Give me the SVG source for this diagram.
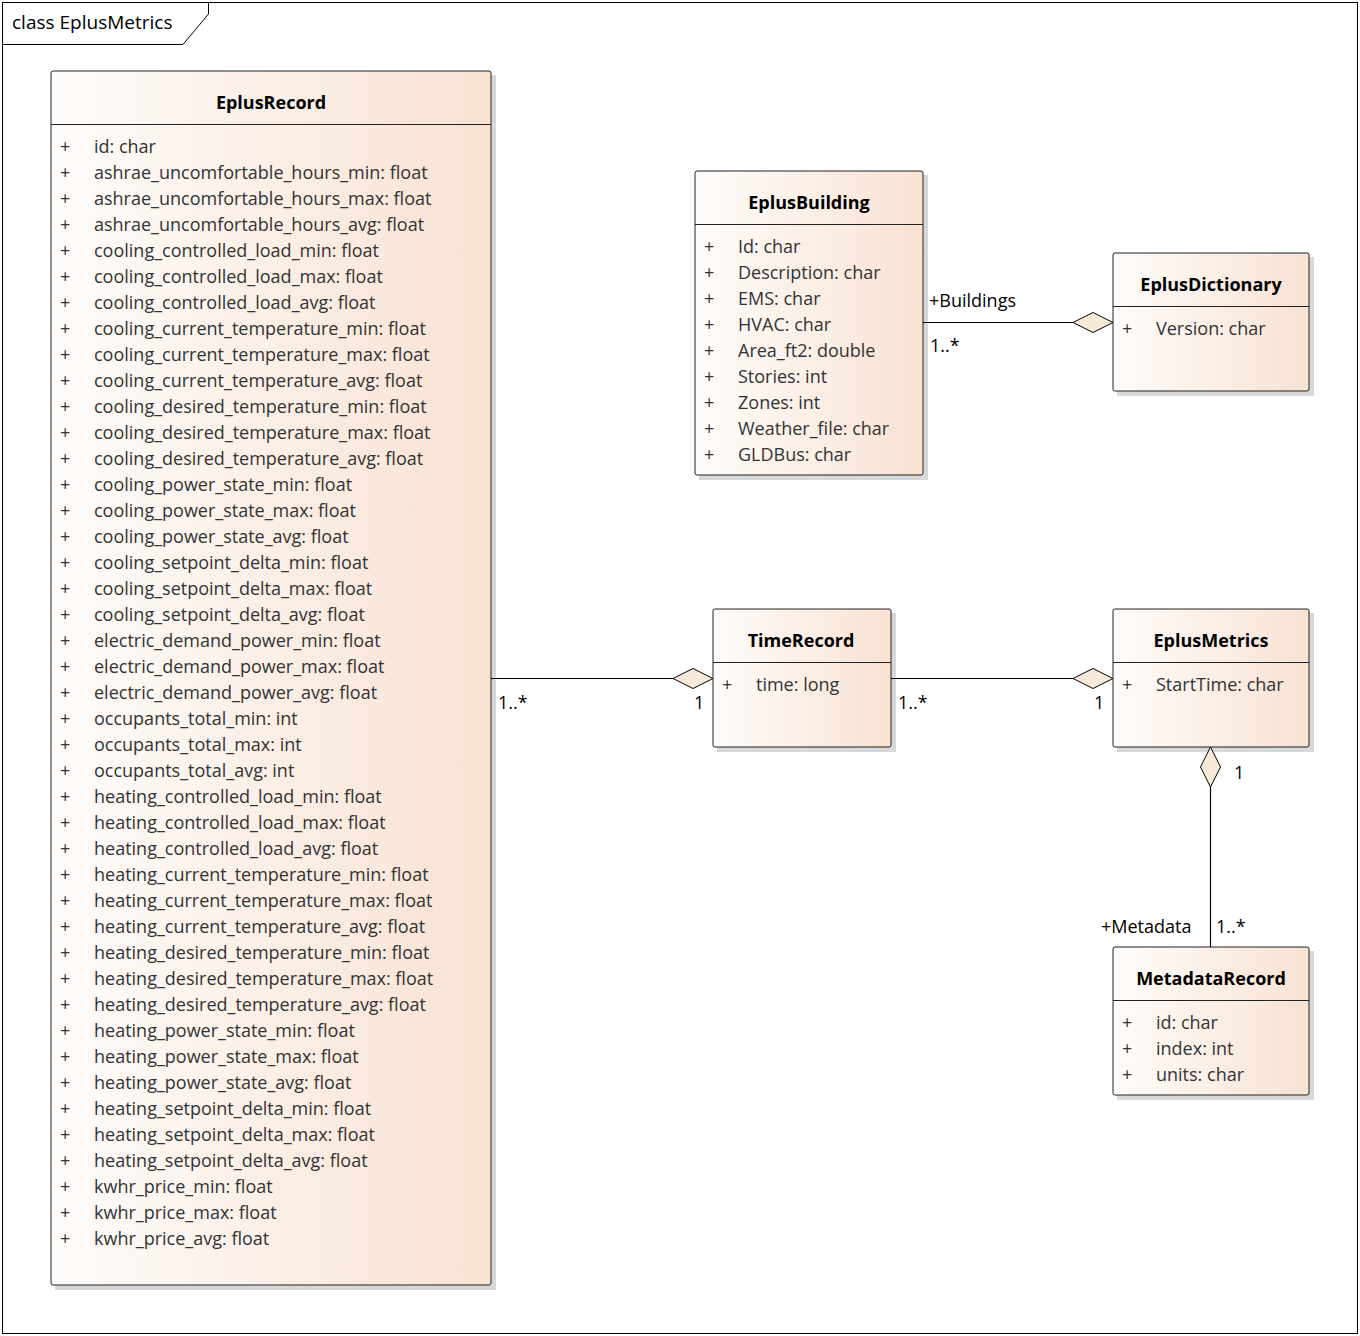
<svg xmlns="http://www.w3.org/2000/svg" width="1360" height="1336" viewBox="0 0 1360 1336">
<defs>
<linearGradient id="g" x1="0" y1="0" x2="1" y2="0"><stop offset="0" stop-color="#fefcfa"/><stop offset="1" stop-color="#f8e2d3"/></linearGradient>
<style>
.box{fill:url(#g);stroke:#222;stroke-width:1}
.sh{fill:#d8d8d8}
.t{font-family:"Open Sans","Noto Sans",sans-serif;font-size:18px;font-weight:bold;fill:#000;text-anchor:middle}
.a{font-family:"Open Sans","Noto Sans",sans-serif;font-size:18px;fill:#333}
.l{font-family:"Open Sans","Noto Sans",sans-serif;font-size:18px;fill:#000}
.ln{stroke:#000;stroke-width:1.2;fill:none}
.d{fill:#f8ead9;stroke:#000;stroke-width:1}
</style>
</defs>
<rect x="0" y="0" width="1360" height="1336" fill="#fff"/>
<rect x="2.5" y="2.5" width="1355" height="1331" fill="none" stroke="#000"/>
<path d="M2.5 44.5 H183 L208.5 14 V2.5" fill="none" stroke="#000"/>
<text x="12" y="29" class="l" style="font-size:19px">class EplusMetrics</text>

<g id="EplusRecord">
<rect class="sh" x="55" y="75" width="441" height="1215"/>
<rect class="box" x="51" y="71" width="440" height="1214" rx="2"/>
<line x1="51" y1="124.5" x2="491" y2="124.5" stroke="#222"/>
<text class="t" x="271" y="109">EplusRecord</text>
<g class="a">
<text x="60" y="153">+</text><text x="94" y="153">id: char</text>
<text x="60" y="179">+</text><text x="94" y="179">ashrae_uncomfortable_hours_min: float</text>
<text x="60" y="205">+</text><text x="94" y="205">ashrae_uncomfortable_hours_max: float</text>
<text x="60" y="231">+</text><text x="94" y="231">ashrae_uncomfortable_hours_avg: float</text>
<text x="60" y="257">+</text><text x="94" y="257">cooling_controlled_load_min: float</text>
<text x="60" y="283">+</text><text x="94" y="283">cooling_controlled_load_max: float</text>
<text x="60" y="309">+</text><text x="94" y="309">cooling_controlled_load_avg: float</text>
<text x="60" y="335">+</text><text x="94" y="335">cooling_current_temperature_min: float</text>
<text x="60" y="361">+</text><text x="94" y="361">cooling_current_temperature_max: float</text>
<text x="60" y="387">+</text><text x="94" y="387">cooling_current_temperature_avg: float</text>
<text x="60" y="413">+</text><text x="94" y="413">cooling_desired_temperature_min: float</text>
<text x="60" y="439">+</text><text x="94" y="439">cooling_desired_temperature_max: float</text>
<text x="60" y="465">+</text><text x="94" y="465">cooling_desired_temperature_avg: float</text>
<text x="60" y="491">+</text><text x="94" y="491">cooling_power_state_min: float</text>
<text x="60" y="517">+</text><text x="94" y="517">cooling_power_state_max: float</text>
<text x="60" y="543">+</text><text x="94" y="543">cooling_power_state_avg: float</text>
<text x="60" y="569">+</text><text x="94" y="569">cooling_setpoint_delta_min: float</text>
<text x="60" y="595">+</text><text x="94" y="595">cooling_setpoint_delta_max: float</text>
<text x="60" y="621">+</text><text x="94" y="621">cooling_setpoint_delta_avg: float</text>
<text x="60" y="647">+</text><text x="94" y="647">electric_demand_power_min: float</text>
<text x="60" y="673">+</text><text x="94" y="673">electric_demand_power_max: float</text>
<text x="60" y="699">+</text><text x="94" y="699">electric_demand_power_avg: float</text>
<text x="60" y="725">+</text><text x="94" y="725">occupants_total_min: int</text>
<text x="60" y="751">+</text><text x="94" y="751">occupants_total_max: int</text>
<text x="60" y="777">+</text><text x="94" y="777">occupants_total_avg: int</text>
<text x="60" y="803">+</text><text x="94" y="803">heating_controlled_load_min: float</text>
<text x="60" y="829">+</text><text x="94" y="829">heating_controlled_load_max: float</text>
<text x="60" y="855">+</text><text x="94" y="855">heating_controlled_load_avg: float</text>
<text x="60" y="881">+</text><text x="94" y="881">heating_current_temperature_min: float</text>
<text x="60" y="907">+</text><text x="94" y="907">heating_current_temperature_max: float</text>
<text x="60" y="933">+</text><text x="94" y="933">heating_current_temperature_avg: float</text>
<text x="60" y="959">+</text><text x="94" y="959">heating_desired_temperature_min: float</text>
<text x="60" y="985">+</text><text x="94" y="985">heating_desired_temperature_max: float</text>
<text x="60" y="1011">+</text><text x="94" y="1011">heating_desired_temperature_avg: float</text>
<text x="60" y="1037">+</text><text x="94" y="1037">heating_power_state_min: float</text>
<text x="60" y="1063">+</text><text x="94" y="1063">heating_power_state_max: float</text>
<text x="60" y="1089">+</text><text x="94" y="1089">heating_power_state_avg: float</text>
<text x="60" y="1115">+</text><text x="94" y="1115">heating_setpoint_delta_min: float</text>
<text x="60" y="1141">+</text><text x="94" y="1141">heating_setpoint_delta_max: float</text>
<text x="60" y="1167">+</text><text x="94" y="1167">heating_setpoint_delta_avg: float</text>
<text x="60" y="1193">+</text><text x="94" y="1193">kwhr_price_min: float</text>
<text x="60" y="1219">+</text><text x="94" y="1219">kwhr_price_max: float</text>
<text x="60" y="1245">+</text><text x="94" y="1245">kwhr_price_avg: float</text>
</g>
</g>

<g id="EplusBuilding">
<rect class="sh" x="699" y="175" width="229" height="305"/>
<rect class="box" x="695" y="171" width="228" height="304" rx="2"/>
<line x1="695" y1="224.5" x2="923" y2="224.5" stroke="#222"/>
<text class="t" x="809" y="209">EplusBuilding</text>
<g class="a">
<text x="704" y="253">+</text><text x="738" y="253">Id: char</text>
<text x="704" y="279">+</text><text x="738" y="279">Description: char</text>
<text x="704" y="305">+</text><text x="738" y="305">EMS: char</text>
<text x="704" y="331">+</text><text x="738" y="331">HVAC: char</text>
<text x="704" y="357">+</text><text x="738" y="357">Area_ft2: double</text>
<text x="704" y="383">+</text><text x="738" y="383">Stories: int</text>
<text x="704" y="409">+</text><text x="738" y="409">Zones: int</text>
<text x="704" y="435">+</text><text x="738" y="435">Weather_file: char</text>
<text x="704" y="461">+</text><text x="738" y="461">GLDBus: char</text>
</g>
</g>

<g id="EplusDictionary">
<rect class="sh" x="1117" y="257" width="197" height="139"/>
<rect class="box" x="1113" y="253" width="196" height="138" rx="2"/>
<line x1="1113" y1="306.5" x2="1309" y2="306.5" stroke="#222"/>
<text class="t" x="1211" y="291">EplusDictionary</text>
<g class="a"><text x="1122" y="335">+</text><text x="1156" y="335">Version: char</text></g>
</g>

<g id="TimeRecord">
<rect class="sh" x="717" y="613" width="179" height="139"/>
<rect class="box" x="713" y="609" width="178" height="138" rx="2"/>
<line x1="713" y1="662.5" x2="891" y2="662.5" stroke="#222"/>
<text class="t" x="801" y="647">TimeRecord</text>
<g class="a"><text x="722" y="691">+</text><text x="756" y="691">time: long</text></g>
</g>

<g id="EplusMetrics">
<rect class="sh" x="1117" y="613" width="197" height="139"/>
<rect class="box" x="1113" y="609" width="196" height="138" rx="2"/>
<line x1="1113" y1="662.5" x2="1309" y2="662.5" stroke="#222"/>
<text class="t" x="1211" y="647">EplusMetrics</text>
<g class="a"><text x="1122" y="691">+</text><text x="1156" y="691">StartTime: char</text></g>
</g>

<g id="MetadataRecord">
<rect class="sh" x="1117" y="951" width="197" height="149"/>
<rect class="box" x="1113" y="947" width="196" height="148" rx="2"/>
<line x1="1113" y1="1000.5" x2="1309" y2="1000.5" stroke="#222"/>
<text class="t" x="1211" y="985">MetadataRecord</text>
<g class="a">
<text x="1122" y="1029">+</text><text x="1156" y="1029">id: char</text>
<text x="1122" y="1055">+</text><text x="1156" y="1055">index: int</text>
<text x="1122" y="1081">+</text><text x="1156" y="1081">units: char</text>
</g>
</g>

<g id="connectors">
<line class="ln" x1="923" y1="322.5" x2="1073" y2="322.5"/>
<polygon class="d" points="1073,322.5 1093,312.5 1113,322.5 1093,332.5"/>
<text class="l" x="929" y="307">+Buildings</text>
<text class="l" x="930" y="352">1..*</text>

<line class="ln" x1="491" y1="678.5" x2="673" y2="678.5"/>
<polygon class="d" points="673,678.5 693,668.5 713,678.5 693,688.5"/>
<text class="l" x="498" y="709">1..*</text>
<text class="l" x="694" y="709">1</text>

<line class="ln" x1="891" y1="678.5" x2="1073" y2="678.5"/>
<polygon class="d" points="1073,678.5 1093,668.5 1113,678.5 1093,688.5"/>
<text class="l" x="898" y="709">1..*</text>
<text class="l" x="1094" y="709">1</text>

<line class="ln" x1="1210.5" y1="787" x2="1210.5" y2="947"/>
<polygon class="d" points="1210.5,747 1220.5,767 1210.5,787 1200.5,767"/>
<text class="l" x="1234" y="779">1</text>
<text class="l" x="1101" y="933">+Metadata</text>
<text class="l" x="1216" y="933">1..*</text>
</g>
</svg>
